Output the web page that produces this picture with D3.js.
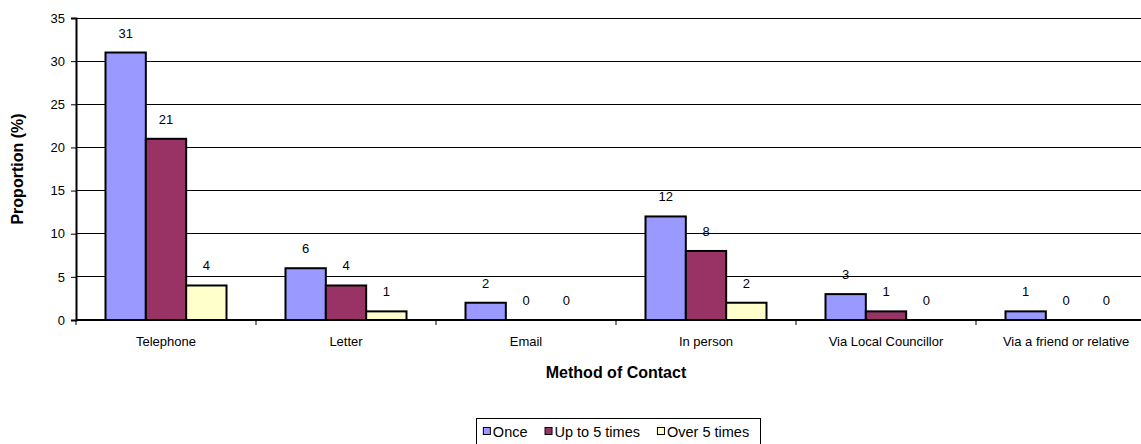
<!DOCTYPE html>
<html><head><meta charset="utf-8">
<script src="https://cdn.jsdelivr.net/npm/d3@7"></script>
<style>body{margin:0;background:#fff;overflow:hidden}svg{display:block;font-family:"Liberation Sans",Arial,sans-serif}</style>
</head><body>
<svg id="c" width="1141" height="444"></svg>
<script>
const categories = ["Telephone","Letter","Email","In person","Via Local Councillor","Via a friend or relative"];
const seriesNames = ["Once","Up to 5 times","Over 5 times"];
const once = [31,6,2,12,3,1];
const upTo5 = [21,4,0,8,1,0];
const over5 = [4,1,0,2,0,0];
const yTicks = [0,5,10,15,20,25,30,35];
const colors = ["#9999FF","#993366","#FFFFCC"];
const seriesValues = [once, upTo5, over5];

const svg = d3.select("#c");
const pL = 76, pR = 1156, pT = 18, pB = 320;
const x = d3.scaleBand().domain(categories).range([pL, pR]).paddingInner(0).paddingOuter(0);
const groupW = 121;
const xs = d3.scaleBand().domain(seriesNames).range([0, groupW]).padding(0);
const y = d3.scaleLinear().domain([0,35]).range([pB, pT]);

// gridlines
svg.append("g").selectAll("line").data(yTicks.filter(d=>d>0)).join("line")
  .attr("x1", pL).attr("x2", pR).attr("y1", d=>y(d)).attr("y2", d=>y(d))
  .attr("stroke","#000").attr("stroke-width",1).attr("shape-rendering","crispEdges");

// bars
const data = [];
categories.forEach((c,i)=>seriesNames.forEach((s,j)=>data.push({c,s,v:seriesValues[j][i],j})));
const bx = d => x(d.c) + (x.bandwidth()-groupW)/2 + xs(d.s);
svg.append("g").selectAll("rect").data(data.filter(d=>d.v>0)).join("rect")
  .attr("x", bx).attr("width", xs.bandwidth())
  .attr("y", d=>y(d.v)).attr("height", d=>y(0)-y(d.v))
  .attr("fill", d=>colors[d.j]).attr("stroke","#000").attr("stroke-width",2);

// value labels
svg.append("g").selectAll("text").data(data).join("text")
  .attr("x", d=>bx(d)+xs.bandwidth()/2).attr("y", d=>y(d.v)-15)
  .attr("text-anchor","middle").attr("font-size",13).text(d=>d.v);

// y axis
const yAxis = svg.append("g").attr("transform",`translate(${pL},0)`)
  .call(d3.axisLeft(y).tickValues(yTicks).tickSize(5).tickPadding(6));
yAxis.select(".domain").attr("stroke","#000").attr("stroke-width",2);
yAxis.selectAll("text").attr("font-size",13).attr("font-family","Liberation Sans, Arial, sans-serif").attr("fill","#000");
yAxis.selectAll(".tick line").attr("stroke","#000");

// x axis
svg.append("line").attr("x1",pL).attr("x2",pR).attr("y1",pB).attr("y2",pB)
  .attr("stroke","#000").attr("stroke-width",2);
const bounds = categories.map(c=>x(c)).concat([pR]);
svg.append("g").selectAll("line").data(bounds).join("line")
  .attr("x1",d=>d).attr("x2",d=>d).attr("y1",pB).attr("y2",pB+5).attr("stroke","#000");
svg.append("g").selectAll("text").data(categories).join("text")
  .attr("x", d=>x(d)+x.bandwidth()/2).attr("y", 346)
  .attr("text-anchor","middle").attr("font-size",13).text(d=>d);

// axis titles
svg.append("text").attr("x",616).attr("y",378).attr("text-anchor","middle")
  .attr("font-size",16).attr("font-weight","bold").text("Method of Contact");
svg.append("text").attr("transform",`translate(23,${(pT+pB)/2}) rotate(-90)`)
  .attr("text-anchor","middle").attr("font-size",16).attr("font-weight","bold").text("Proportion (%)");

// legend (laid out from measured text widths)
const lg = svg.append("g");
const box = lg.append("rect").attr("y",418.5).attr("height",30)
  .attr("fill","#fff").attr("stroke","#000");
const gap = 17;
let cx = 0;
seriesNames.forEach((s,i)=>{
  const g = lg.append("g").attr("class","item");
  g.append("rect").attr("x",cx+0.5).attr("y",427.5).attr("width",7).attr("height",7)
    .attr("fill",colors[i]).attr("stroke","#000");
  const t = g.append("text").attr("x",cx+10).attr("y",437).attr("font-size",14.5).text(s);
  const w = t.node().getComputedTextLength();
  cx += 10 + w + gap;
});
const contentW = cx - gap;
const startX = 616 - contentW/2;
lg.selectAll("g.item").attr("transform",`translate(${startX},0)`);
box.attr("x", Math.round(startX - 7) + 0.5).attr("width", Math.round(contentW + 18));
</script>
</body></html>
